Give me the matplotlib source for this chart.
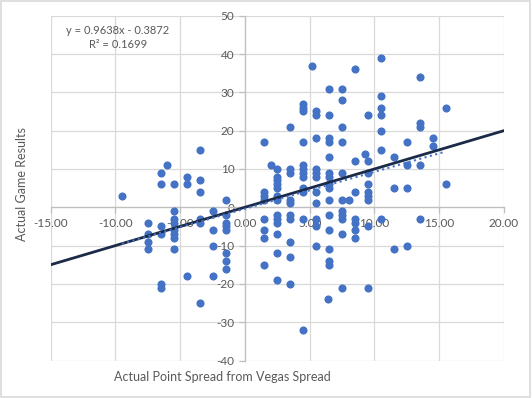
import numpy as np
import matplotlib
matplotlib.use("Agg")
import matplotlib.pyplot as plt
from matplotlib.patches import Rectangle

# point spread (x) grouped by column, with the game results (y) at each spread
spread_cols = [-9.5, -7.5, -6.5, -6.0, -5.5, -4.5, -3.5, -2.5, -1.5,
               1.5, 2.0, 2.5, 3.5, 4.5, 5.2, 5.5, 6.4, 6.5, 7.5, 8.0,
               8.5, 9.25, 9.5, 10.5, 11.5, 12.5, 13.5, 14.5, 15.5]
results_cols = [
    [3],
    [-4, -7, -9, -11],
    [9, 6, -5, -7, -20, -21],
    [11],
    [6, -1, -3, -4, -6, -7, -8, -11],
    [8, 6, -18],
    [15, 7, 4, -3, -4, -25],
    [-1, -6, -10, -18],
    [2, -2, -4, -5, -6, -12, -14, -16],
    [17, 4, 3, 2, -3, -6, -8, -15],
    [11],
    [10, 8, 7, 6, 5, 3, 2, -2, -3, -4, -7, -12, -19],
    [21, 10, 9, 2, 1, -2, -3, -9, -13, -20],
    [27, 26, 25, 17, 11, 10, 9, 8, 5, 4, -3, -32],
    [37],
    [25, 24, 18, 10, 9, 8, 4, 1, -3, -5, -10],
    [-24],
    [31, 24, 18, 17, 13, 9, 8, 6, 5, 2, -2, -6, -11, -14, -15],
    [31, 28, 21, 17, 9, 2, -1, -2, -3, -7, -21],
    [2],
    [36, 12, 4, -3, -4, -6, -8],
    [14],
    [24, 12, 9, 6, 4, 3, 2, -5, -21],
    [39, 29, 26, 24, 20, 15, -3],
    [13, 5, -11],
    [17, 11, 5, -10],
    [34, 22, 21, 11, -3],
    [18, 16],
    [26, 6],
]

# Excel linear trendline from the chart label
trend_slope = 0.9638
trend_intercept = -0.3872
r_squared = 0.1699

x_ticks = [-15, -10, -5, 0, 5, 10, 15, 20]
y_ticks = [-40, -30, -20, -10, 0, 10, 20, 30, 40, 50]

spread = np.array([s for s, ys in zip(spread_cols, results_cols) for _ in ys])
result = np.array([y for ys in results_cols for y in ys])

plt.rcParams['font.family'] = ['Lato', 'DejaVu Sans']
txt = '#595959'
blue = '#4472C4'

fig = plt.figure(figsize=(5.32, 3.98), dpi=100)
ax = fig.add_axes([0.0953, 0.0942, 0.852, 0.8663])
ax.set_xlim(-15, 20)
ax.set_ylim(-40, 50)
ax.set_xticks(x_ticks)
ax.set_yticks(y_ticks)
ax.set_xticklabels([f"{v:.2f}" for v in x_ticks])
ax.set_yticklabels([str(v) for v in y_ticks])

ax.grid(True, color='#D9D9D9', lw=0.9)
ax.set_axisbelow(True)
for side in ['top', 'right']:
    ax.spines[side].set_visible(False)
ax.spines['left'].set_position(('data', 0))
ax.spines['bottom'].set_position(('data', 0))
for side in ['left', 'bottom']:
    ax.spines[side].set_color('#BFBFBF')
    ax.spines[side].set_linewidth(0.9)
ax.tick_params(colors='#BFBFBF', labelcolor=txt, labelsize=8.5, length=4, width=0.9)
ax.tick_params(axis='x', pad=3.5)
ax.tick_params(axis='y', pad=3.5)

ax.scatter(spread, result, s=34, color=blue, linewidths=0, zorder=3)

# vegas line y = x across the whole axis
xs = np.array(ax.get_xlim())
ax.plot(xs, xs, color='#1B2A47', lw=2, zorder=4)

# dotted trendline over the data range
tx = np.array([spread.min(), spread.max()])
ax.plot(tx, trend_slope * tx + trend_intercept, color=blue, ls=':', lw=1.5, zorder=4)
ax.set_xlim(-15, 20)

fig.text(118 / 532, 1 - 30.7 / 398, f"y = {trend_slope}x - {abs(trend_intercept)}",
         ha='center', va='center', color=txt, fontsize=8)
fig.text(118 / 532, 1 - 44.5 / 398, f"R² = {r_squared}",
         ha='center', va='center', color=txt, fontsize=8)

fig.text(22 / 532, 1 - 184 / 398, "Actual Game Results", rotation=90,
         ha='center', va='center', color=txt, fontsize=9)
fig.text(222 / 532, 1 - 377 / 398, "Actual Point Spread from Vegas Spread",
         ha='center', va='center', color=txt, fontsize=9)

fig.patches.append(Rectangle((0.002, 0.003), 0.995, 0.994, transform=fig.transFigure,
                             fill=False, edgecolor='#D9D9D9', lw=1.2))

fig.savefig("out.png", dpi=100)
